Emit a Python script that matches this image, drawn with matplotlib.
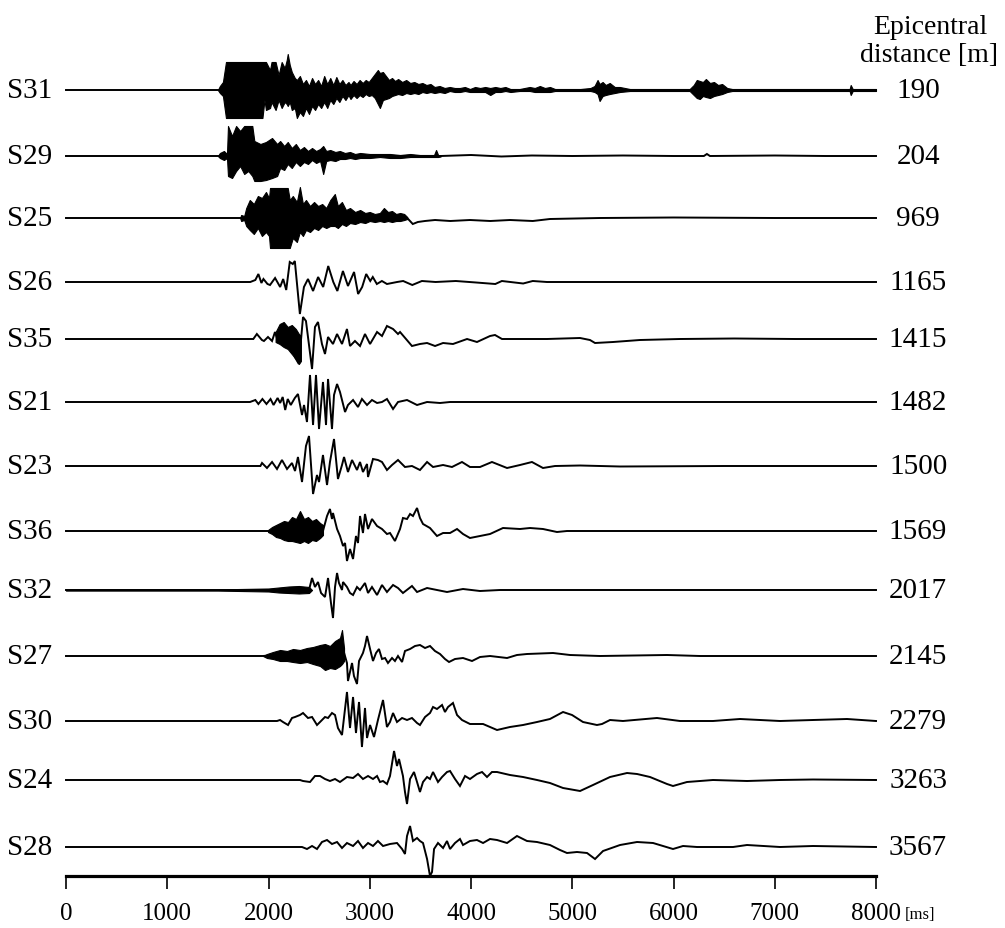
import matplotlib
matplotlib.use("Agg")
import matplotlib.pyplot as plt
import matplotlib.transforms as mtransforms

plt.rcParams['font.family'] = ['Liberation Serif', 'DejaVu Serif']

# ---------------- data (time in ms, amplitude in display units, up positive) -------------
stations = ["S31", "S29", "S25", "S26", "S35", "S21", "S23", "S36", "S32", "S27", "S30", "S24", "S28"]
distances = ["190", "204", "969", "1165", "1415", "1482", "1500", "1569", "2017", "2145", "2279", "3263", "3567"]
x_ticks = [0, 1000, 2000, 3000, 4000, 5000, 6000, 7000, 8000]

# polyline samples (t, amp)
S31 = [(0, 0), (1500, 0), (8000, 0)]
S29 = [(0, 0), (1500, 0), (3700, 0), (4000, 1), (4300, -0.5), (4600, 0.5), (5000, 0), (5500, 0.5),
       (6000, 0), (6300, 0), (6330, 2), (6360, 0), (7000, 0.5), (7500, 0), (8000, 0)]
S25 = [(0, 0), (1720, 0), (3370, 0), (3425, -6), (3475, -4), (3545, -3), (3645, -2), (3795, -3),
       (3990, -2), (4190, -3), (4385, -2), (4610, -3), (4780, -1), (5275, 0), (6000, 0.5), (7000, 0), (8000, 0)]
S26 = [(0, 0), (1820, 0), (1870, 2), (1900, 8), (1930, -1), (1950, 3), (1990, -2), (2015, -3), (2065, 4),
       (2115, -5), (2145, 3), (2175, -8), (2210, 20), (2240, 18), (2260, 21), (2310, -32), (2350, -5),
       (2390, 3), (2440, -9), (2490, 5), (2540, -5), (2590, 16), (2640, 0), (2680, -9), (2735, 11),
       (2785, -4), (2845, 10), (2885, -12), (2925, -5), (2965, 8), (3005, 1), (3030, 5), (3070, -2),
       (3120, 1), (3170, -2), (3270, 0), (3330, 1), (3420, -3), (3515, 1), (3650, 0), (3850, 1),
       (4050, -0.5), (4240, -2), (4305, 1), (4515, -1.5), (4610, 1), (4750, 0), (8000, 0)]
S35 = [(0, 0), (1850, 0), (1885, 5), (1935, -1), (1955, -2), (1995, 2), (2035, -2), (2064, 7), (2100, -4),
       (2140, 12), (2180, -8), (2220, 5), (2260, -18), (2300, -25), (2341, 22), (2370, 18), (2430, -30),
       (2459, 12), (2489, 17), (2528, -5), (2558, -15), (2588, 2), (2637, -5), (2677, 5), (2726, -5),
       (2775, 10), (2805, -7), (2854, -2), (2904, -7), (2953, 5), (3003, -5), (3072, 7), (3121, 3),
       (3170, 13), (3230, 10), (3279, 5), (3299, 7), (3417, -7), (3496, -5), (3566, -4), (3645, -7),
       (3724, -4), (3822, -5), (3961, 0), (4059, -3), (4188, 3), (4237, 4), (4306, 0), (4751, 0),
       (5077, 1), (5175, -1), (5225, -4), (5403, -3), (5669, -1), (6064, 0), (6600, 0.5), (7200, 0), (8000, 0)]
S21 = [(0, 0), (1817, 0), (1870, 2), (1900, -2), (1940, 3), (1980, -2), (2020, 3), (2050, -3), (2090, 4),
       (2115, -1), (2140, 5), (2165, -8), (2190, 3), (2220, -3), (2260, 4), (2291, 8), (2331, -13),
       (2351, -3), (2380, -20), (2410, 27), (2440, -23), (2469, 27), (2499, -27), (2538, 20), (2568, -23),
       (2588, 23), (2627, -27), (2647, 7), (2677, 18), (2706, 10), (2756, -10), (2785, -3), (2835, 2),
       (2884, -5), (2923, 3), (2973, -3), (3022, 2), (3072, -1), (3121, 0), (3170, 3), (3230, -7),
       (3279, 0), (3368, 2), (3467, -3), (3566, 0), (3694, -1), (3793, 0), (8000, 0)]
S23 = [(0, 0), (1920, 0), (1936, 3), (1985, -2), (2035, 4), (2084, -3), (2133, 6), (2183, -3), (2232, 3),
       (2262, -5), (2291, 9), (2331, -16), (2370, 20), (2400, 30), (2440, -28), (2479, -9), (2499, -16),
       (2538, 11), (2578, -19), (2607, 4), (2647, 27), (2686, -13), (2726, 1), (2746, 9), (2785, -6),
       (2825, 6), (2874, -4), (2904, 4), (2933, -6), (2973, 2), (2983, -11), (3032, 7), (3081, 6),
       (3121, 4), (3170, -4), (3220, 1), (3279, 6), (3348, -1), (3417, 0), (3496, -4), (3566, 4),
       (3625, -1), (3724, 1), (3812, -1), (3911, 4), (3990, -1), (4089, -1), (4207, 4), (4356, -2),
       (4484, 1), (4602, 4), (4711, -2), (4830, 0), (5077, 0.5), (5472, -0.5), (6500, 0), (8000, 0)]
S36 = [(0, 0), (1995, 0), (2538, 0), (2578, 15), (2607, 22), (2627, 12), (2637, 18), (2677, 2), (2706, -5),
       (2736, -15), (2756, -12), (2775, -30), (2805, -18), (2835, -28), (2864, -5), (2884, -12), (2904, 15),
       (2933, -2), (2953, 17), (2983, 2), (3022, 12), (3072, 5), (3121, 2), (3170, -3), (3200, -2),
       (3249, -10), (3299, 2), (3328, 13), (3368, 12), (3398, 17), (3427, 15), (3467, 23), (3496, 13),
       (3526, 7), (3595, 3), (3664, -5), (3724, -2), (3793, -2), (3862, 2), (3921, -3), (3990, -7),
       (4089, -5), (4188, -3), (4316, 3), (4484, 2), (4583, 3), (4711, 2), (4849, -1), (4948, 0), (8000, 0)]
S32 = [(0, 0), (2400, 0), (2430, 12), (2459, 3), (2489, 8), (2519, -3), (2558, -7), (2588, 12), (2617, -13),
       (2637, -28), (2657, 3), (2677, 17), (2696, 7), (2726, 0), (2736, 8), (2775, 3), (2805, -3), (2835, -5),
       (2874, 3), (2904, 0), (2953, 7), (2983, -3), (3022, 3), (3072, -5), (3121, 5), (3170, -2), (3230, 5),
       (3279, 2), (3328, -3), (3417, 4), (3467, -2), (3566, 2), (3664, 0), (3763, -2), (3921, 1), (4089, -1),
       (4286, 0), (8000, 0)]
S27 = [(0, 0), (1946, 0), (2736, 7), (2775, -7), (2785, -25), (2825, -7), (2844, -20), (2874, -28), (2894, -5),
       (2933, 3), (2953, 10), (2973, 20), (3003, 7), (3032, -5), (3062, 3), (3091, 7), (3121, -3), (3151, -2),
       (3180, -7), (3220, -2), (3249, -5), (3279, 0), (3319, -6), (3348, 5), (3398, 7), (3447, 10), (3496, 11),
       (3546, 8), (3595, 10), (3644, 5), (3694, 2), (3743, -3), (3783, -6), (3842, -3), (3921, -2), (4010, -5),
       (4089, -1), (4188, 0), (4356, -2), (4454, 1), (4553, 2), (4810, 3), (4978, 1), (5274, 0), (5936, 1),
       (6262, 0), (8000, 0)]
S30 = [(0, 0), (2084, 0), (2114, 1), (2143, -1), (2193, -4), (2232, 3), (2262, 4), (2311, 6), (2341, 8),
       (2390, 3), (2430, 4), (2479, -4), (2509, -1), (2558, 4), (2588, 3), (2627, 8), (2657, 6), (2686, -7),
       (2726, -14), (2775, 29), (2805, -7), (2835, 24), (2864, -12), (2894, 19), (2923, -26), (2953, 13),
       (2973, -17), (3003, -4), (3042, -16), (3081, 1), (3131, 21), (3170, -6), (3200, -1), (3230, 8),
       (3269, -1), (3319, 3), (3368, 1), (3417, 3), (3467, -2), (3496, -4), (3546, 4), (3595, 8), (3625, 14),
       (3664, 12), (3714, 16), (3743, 9), (3773, 14), (3822, 18), (3862, 6), (3911, 1), (3990, -3), (4119, -3),
       (4257, -9), (4385, -6), (4514, -4), (4652, -1), (4780, 2), (4909, 9), (4998, 6), (5106, -1), (5244, -4),
       (5294, -3), (5373, 1), (5501, 0), (5837, 3), (6064, 0), (6390, 0), (6657, 2), (7052, 0), (7378, 1),
       (7714, 2), (8000, 0)]
S24 = [(0, 0), (2311, 0), (2341, -1), (2410, -2), (2459, 4), (2509, 4), (2558, 1), (2607, -1), (2657, 1),
       (2706, -2), (2775, 3), (2835, 2), (2884, 6), (2933, 1), (2983, 4), (3032, 1), (3072, 4), (3101, -2),
       (3131, -1), (3170, -4), (3200, 4), (3240, 29), (3269, 14), (3289, 21), (3328, 4), (3348, -12),
       (3368, -24), (3398, 1), (3437, 8), (3467, -2), (3496, -12), (3526, -2), (3566, 3), (3595, 1),
       (3625, 8), (3674, -2), (3714, 3), (3763, 8), (3793, 9), (3842, 1), (3891, -6), (3941, 4), (3990, 1),
       (4059, 6), (4109, 8), (4158, 3), (4207, 8), (4257, 8), (4385, 5), (4514, 3), (4652, 0), (4780, -3),
       (4909, -8), (5077, -11), (5205, -5), (5373, 3), (5541, 7), (5640, 6), (5768, 3), (5936, -4),
       (5995, -6), (6133, -2), (6390, 0), (6726, -1), (7052, 0), (7378, 0.5), (8000, 0)]
S28 = [(0, 0), (2331, 0), (2380, -2), (2430, 1), (2479, -2), (2528, 5), (2578, 7), (2627, 3), (2677, 5),
       (2726, -1), (2775, 4), (2835, 1), (2884, 6), (2933, -1), (2983, 4), (3032, 1), (3081, 6), (3131, 1),
       (3200, 3), (3269, 4), (3319, -2), (3348, -7), (3368, 11), (3398, 21), (3427, 6), (3467, 9), (3496, 6),
       (3526, 4), (3566, -12), (3595, -29), (3615, -25), (3635, -2), (3674, 4), (3724, -1), (3763, 6),
       (3793, -2), (3842, 4), (3891, 8), (3921, 2), (3990, 6), (4059, 7), (4119, 4), (4188, 8), (4257, 7),
       (4356, 4), (4454, 11), (4553, 6), (4652, 5), (4780, 2), (4879, -3), (4948, -6), (5047, -5), (5146, -6),
       (5225, -12), (5304, -4), (5472, 2), (5640, 5), (5798, 4), (5995, -2), (6094, 1), (6232, 0), (6588, 0),
       (6726, 2), (7052, 0), (7378, 1), (8000, 0)]

# dense high-frequency parts: (t, upper, lower)
S31_env = [(1500, 0, 0), (1520, 4, -3), (1550, 8, -6), (1580, 28, -28), (1940, 28, -28), (1960, 28, -10),
           (1975, 28, -20), (2015, 20, -18), (2030, 28, -12), (2070, 28, -20), (2100, 15, -10), (2130, 28, -18),
           (2160, 22, -12), (2180, 30, -14), (2190, 36, -16), (2210, 25, -12), (2230, 18, -20), (2260, 12, -18),
           (2280, 10, -28), (2310, 14, -22), (2340, 6, -26), (2370, 10, -18), (2400, 4, -24), (2430, 12, -16),
           (2460, 6, -20), (2490, 10, -14), (2520, 4, -18), (2550, 14, -12), (2580, 6, -18), (2610, 12, -10),
           (2640, 5, -14), (2670, 13, -8), (2700, 6, -12), (2730, 10, -6), (2760, 5, -10), (2790, 8, -5),
           (2810, 5, -9), (2840, 9, -5), (2870, 6, -8), (2900, 10, -5), (2930, 7, -7), (2960, 10, -4),
           (2990, 8, -6), (3020, 12, -5), (3050, 16, -8), (3080, 20, -14), (3100, 17, -18), (3130, 18, -10),
           (3160, 14, -9), (3190, 10, -8), (3220, 12, -6), (3250, 9, -5), (3280, 11, -4), (3320, 8, -5),
           (3360, 10, -3), (3400, 7, -4), (3440, 8, -3), (3480, 6, -4), (3520, 7, -2), (3560, 5, -3),
           (3600, 6, -2), (3640, 3, -3), (3690, 4, -2), (3740, 2, -3), (3790, 3, -1), (3840, 2, -2),
           (3890, 2, -2), (3940, 3, -1), (3990, 1, -2), (4040, 3, -2), (4090, 2, -2), (4140, 3, -2),
           (4190, 2, -5), (4240, 3, -2), (4290, 2, -2), (4340, 3, -1), (4390, 1, -2), (4480, 1, -1),
           (4580, 3, -1), (4630, 2, -2), (4680, 4, -2), (4730, 2, -2), (4780, 3, -2), (4830, 1, -1),
           (5080, 1, -1), (5180, 2, -1), (5220, 4, -2), (5250, 10, -4), (5270, 6, -11), (5300, 8, -6),
           (5330, 5, -5), (5370, 7, -4), (5420, 3, -3), (5470, 3, -2), (5570, 1, -1), (6160, 1, -1),
           (6200, 5, -5), (6230, 10, -8), (6260, 9, -9), (6290, 8, -6), (6320, 11, -7), (6360, 7, -8),
           (6400, 8, -6), (6440, 5, -5), (6480, 6, -4), (6530, 2, -2), (6580, 1, -1), (7740, 1, -1),
           (7750, 5, -5), (7770, 1, -1), (8000, 1, -1)]
S29_env = [(1500, 0, 0), (1520, 3, -2), (1560, 5, -4), (1590, 2, -2), (1600, 30, -20), (1640, 20, -22),
           (1680, 30, -15), (1720, 25, -10), (1760, 30, -18), (1800, 30, -15), (1840, 30, -20), (1860, 15, -25),
           (1920, 12, -25), (1975, 14, -24), (2035, 18, -22), (2085, 12, -20), (2115, 15, -12), (2155, 10, -14),
           (2190, 14, -8), (2230, 8, -12), (2270, 12, -6), (2310, 6, -10), (2350, 9, -6), (2390, 5, -8),
           (2430, 8, -4), (2470, 5, -7), (2510, 7, -5), (2540, 10, -18), (2570, 5, -5), (2610, 6, -4),
           (2660, 4, -5), (2705, 5, -3), (2755, 3, -3), (2805, 4, -2), (2855, 2, -3), (2905, 3, -2),
           (3000, 2, -2), (3100, 2, -1), (3200, 2, -2), (3300, 1, -2), (3400, 2, -1), (3495, 1, -1),
           (3635, 1, -1), (3655, 6, -1), (3675, 1, -1), (3700, 0.5, -0.5)]
S25_env = [(1720, 0, 0), (1730, 3, -3), (1760, 2, -2), (1780, 10, -8), (1815, 18, -12), (1855, 14, -16),
           (1895, 22, -10), (1935, 20, -18), (1975, 26, -14), (2005, 20, -18), (2015, 30, -30), (2190, 30, -30),
           (2210, 18, -30), (2240, 22, -20), (2280, 16, -24), (2310, 31, -14), (2340, 14, -18), (2370, 18, -12),
           (2410, 12, -14), (2450, 16, -10), (2490, 12, -12), (2530, 14, -8), (2570, 10, -10), (2610, 18, -8),
           (2655, 24, -8), (2685, 12, -10), (2725, 16, -6), (2765, 8, -8), (2805, 10, -5), (2855, 6, -6),
           (2905, 8, -4), (2955, 5, -5), (3000, 6, -3), (3050, 4, -4), (3100, 5, -3), (3140, 10, -4),
           (3180, 6, -3), (3220, 7, -4), (3260, 4, -3), (3300, 5, -3), (3340, 4, -2), (3370, 1, -1)]
S35_env = [(2070, 7, -3), (2110, 15, -5), (2150, 17, -8), (2190, 12, -10), (2230, 14, -15), (2270, 10, -20),
           (2300, 5, -25), (2320, 3, -22)]
S36_env = [(1995, 1, -1), (2035, 4, -3), (2074, 6, -6), (2114, 8, -7), (2153, 10, -9), (2193, 9, -10),
           (2232, 14, -10), (2272, 12, -11), (2311, 20, -12), (2351, 12, -10), (2390, 14, -12), (2430, 10, -9),
           (2469, 12, -10), (2509, 8, -7), (2538, 6, -4)]
S32_env = [(0, 0.6, -0.6), (1500, 0.6, -0.6), (2000, 1.5, -1.5), (2100, 2.5, -2.5), (2200, 3.5, -3),
           (2300, 4, -3.5), (2400, 3, -3), (2430, 0, 0)]
S27_env = [(1946, 0, 0), (1985, 2, -2), (2044, 4, -3), (2114, 6, -5), (2183, 5, -5), (2242, 7, -6),
           (2311, 6, -7), (2380, 8, -6), (2440, 9, -8), (2509, 11, -10), (2558, 12, -14), (2607, 10, -12),
           (2657, 15, -13), (2706, 18, -10), (2726, 26, -8), (2746, 8, -5)]

traces = [S31, S29, S25, S26, S35, S21, S23, S36, S32, S27, S30, S24, S28]
envelopes = [S31_env, S29_env, S25_env, None, S35_env, None, None, S36_env, S32_env, S27_env, None, None, None]

# ---------------- layout ----------------
baselines = [91, 157, 219, 283, 340, 403, 467, 532, 591, 657, 722, 781, 848]

W, H = 1005, 929
fig = plt.figure(figsize=(W / 100, H / 100), dpi=100)
ax = fig.add_axes([66 / W, 52 / H, 810 / W, 877 / H])
ax.set_xlim(0, 8000)
ax.set_ylim(877, 0)

for base, tr, env in zip(baselines, traces, envelopes):
    t, a = zip(*tr)
    ax.plot(t, [base - v for v in a], color='black', lw=1.4, clip_on=False, solid_joinstyle='miter')
    if env is not None:
        et, hi, lo = zip(*env)
        ax.fill_between(et, [base - v for v in hi], [base - v for v in lo], facecolor='black',
                        edgecolor='black', lw=0.8, clip_on=False)

for s in ['top', 'left', 'right']:
    ax.spines[s].set_visible(False)
ax.spines['bottom'].set_linewidth(2.3)
ax.set_yticks([])
ax.set_xticks(x_ticks)
ax.set_xticklabels([str(v) for v in x_ticks], fontsize=18)
ax.tick_params(axis='x', direction='out', length=9.5, width=1.2, pad=9)

trans = mtransforms.blended_transform_factory(ax.transAxes, ax.transData)
for base, name, dist in zip(baselines, stations, distances):
    ax.text(-0.0445, base, name, transform=trans, ha='center', va='center', fontsize=21, clip_on=False)
    ax.text(1.052, base, dist, transform=trans, ha='center', va='center', fontsize=21, clip_on=False)

fig.text(930 / W, 1 - 27 / H, "Epicentral", ha='center', va='center', fontsize=20)
fig.text(929 / W, 1 - 55 / H, "distance [m]", ha='center', va='center', fontsize=20)
fig.text(905 / W, 1 - 915 / H, "[ms]", ha='left', va='center', fontsize=12)

fig.savefig("out.png", dpi=100)
